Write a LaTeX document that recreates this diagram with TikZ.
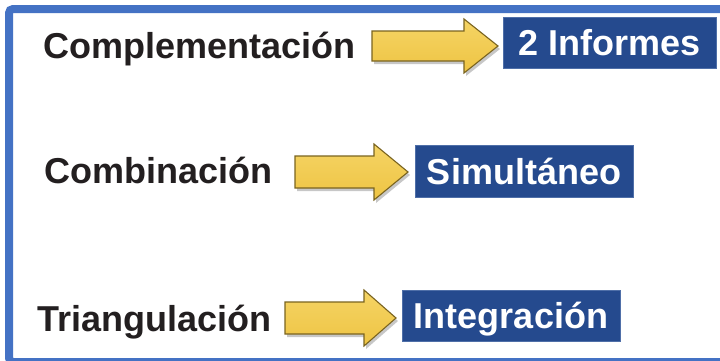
\documentclass[tikz,border=0pt]{standalone}
\usepackage{fontspec}
\setmainfont{Liberation Sans}
\definecolor{frameblue}{HTML}{4472C4}
\definecolor{boxblue}{HTML}{254A8E}
\definecolor{boxedge}{HTML}{4F6FA8}
\definecolor{arrowtop}{HTML}{F5D465}
\definecolor{arrowbot}{HTML}{EEC443}
\definecolor{arrowline}{HTML}{7A6420}
\definecolor{labeltext}{HTML}{231F20}
\newcommand{\blockarr}[7]{% name, x0, yc, xh, xt, shaft half, head half
  \fill[yshadow] (#2+2,#3-#6+3) -- (#4+2,#3-#6+3) -- (#4+2,#3-#7+3) -- (#5+2,#3+3) -- (#4+2,#3+#7+3) -- (#4+2,#3+#6+3) -- (#2+2,#3+#6+3) -- cycle;
  \path[yarr] (#2,#3-#6) -- (#4,#3-#6) -- (#4,#3-#7) -- (#5,#3) -- (#4,#3+#7) -- (#4,#3+#6) -- (#2,#3+#6) -- cycle;
  \coordinate (#1) at (#2,#3);
}
\tikzset{
  lbl/.style={anchor=base west, inner sep=0pt, font=\fontsize{36}{40}\selectfont\bfseries, text=labeltext},
  bx/.style={fill=boxblue, draw=boxedge, line width=0.8pt, text=white, font=\fontsize{36}{40}\selectfont\bfseries, inner sep=0pt, text height=26pt, text depth=0pt},
  yarr/.style={top color=arrowtop, bottom color=arrowbot, draw=arrowline, line width=1.1pt, line join=miter},
  yshadow/.style={fill=black, fill opacity=0.22}
}
\begin{document}
\begin{tikzpicture}[x=1pt,y=-1pt]
\useasboundingbox (0,0) rectangle (720,360);
\clip (0,0) rectangle (720,360);
\fill[white] (0,0) rectangle (720,360);
\draw[frameblue, line width=8pt, rounded corners=4pt] (9,9) rectangle (725,362);

\node[lbl] (l1) at (43,58) {Complementación};
\node[lbl] (l2) at (44,183) {Combinación};
\node[lbl] (l3) at (37,331) {Triangulación};

\blockarr{a1}{372}{46}{464}{498}{15}{27}
\blockarr{a2}{295}{172}{374}{408}{16}{28}
\blockarr{a3}{285}{318}{364}{396}{16}{28}

\node[bx, minimum width=213pt, minimum height=51pt] (b1) at (609.5,42.5) {2 Informes};
\node[bx, minimum width=218pt, minimum height=52pt] (b2) at (524,171) {Simultáneo};
\node[bx, minimum width=218pt, minimum height=51pt] (b3) at (511,315.5) {Integración};
\end{tikzpicture}
\end{document}
